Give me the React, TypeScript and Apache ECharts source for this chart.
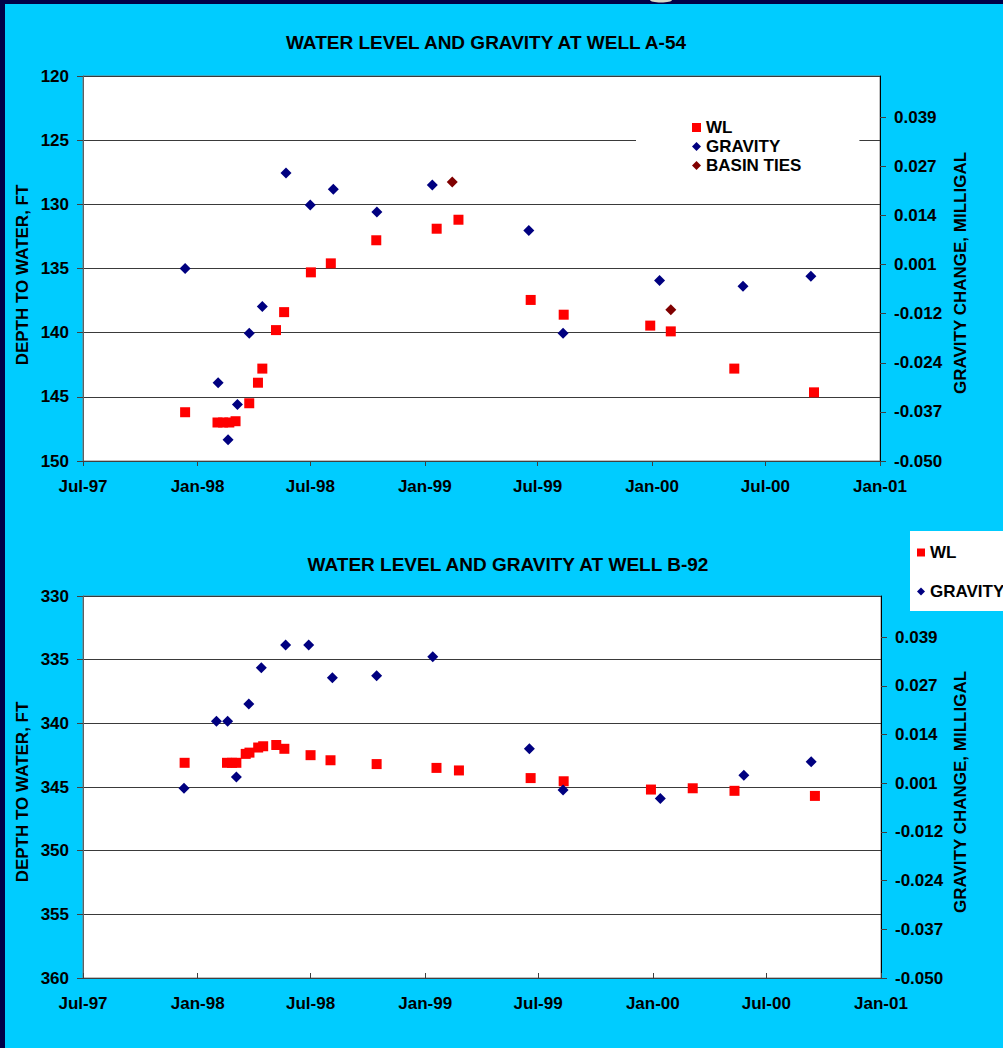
import React, { useEffect, useRef } from "react";
import * as echarts from "echarts";

// ---------- data ----------
const X_TICK_DATES = ["1997-07-01", "1998-01-01", "1998-07-01", "1999-01-01", "1999-07-01", "2000-01-01", "2000-07-01", "2001-01-01"];
const X_TICK_LABELS = ["Jul-97", "Jan-98", "Jul-98", "Jan-99", "Jul-99", "Jan-00", "Jul-00", "Jan-01"];

const GRAV_TICK_VALUES = [-0.05, -0.03725, -0.0245, -0.01175, 0.001, 0.01375, 0.0265, 0.03925];
const GRAV_TICK_LABELS = ["-0.050", "-0.037", "-0.024", "-0.012", "0.001", "0.014", "0.027", "0.039"];

// Well A-54
const A54_WL_DATES = ["1997-12-12", "1998-02-02", "1998-02-11", "1998-02-21", "1998-03-03", "1998-03-25", "1998-04-08", "1998-04-15", "1998-05-07", "1998-05-20", "1998-07-02", "1998-08-03", "1998-10-15", "1999-01-20", "1999-02-24", "1999-06-20", "1999-08-12", "1999-12-29", "2000-01-31", "2000-05-12", "2000-09-17"];
const A54_WL = [146.2, 147.0, 147.0, 147.0, 146.9, 145.5, 143.9, 142.8, 139.8, 138.4, 135.3, 134.6, 132.8, 131.9, 131.2, 137.45, 138.6, 139.45, 139.9, 142.8, 144.65];
const A54_GRAV_DATES = ["1997-12-12", "1998-02-03", "1998-02-19", "1998-03-06", "1998-03-25", "1998-04-15", "1998-05-23", "1998-07-01", "1998-08-07", "1998-10-16", "1999-01-13", "1999-06-17", "1999-08-11", "2000-01-13", "2000-05-26", "2000-09-12"];
const A54_GRAV = [0.0, -0.0297, -0.0445, -0.0353, -0.0168, -0.0099, 0.0248, 0.0165, 0.0206, 0.0147, 0.0217, 0.0099, -0.0168, -0.0031, -0.0046, -0.002];
const A54_BASIN_DATES = ["1999-02-14", "2000-01-31"];
const A54_BASIN = [0.0225, -0.0107];

// Well B-92
const B92_WL_DATES = ["1997-12-11", "1998-02-17", "1998-02-25", "1998-03-04", "1998-03-19", "1998-03-25", "1998-04-08", "1998-04-16", "1998-05-07", "1998-05-20", "1998-07-01", "1998-08-02", "1998-10-15", "1999-01-19", "1999-02-24", "1999-06-19", "1999-08-11", "1999-12-29", "2000-03-05", "2000-05-11", "2000-09-17"];
const B92_WL = [343.1, 343.1, 343.1, 343.1, 342.4, 342.3, 341.9, 341.8, 341.7, 342.0, 342.5, 342.9, 343.2, 343.5, 343.7, 344.3, 344.55, 345.2, 345.1, 345.3, 345.7];
const B92_GRAV_DATES = ["1997-12-10", "1998-01-31", "1998-02-18", "1998-03-04", "1998-03-24", "1998-04-13", "1998-05-22", "1998-06-28", "1998-08-05", "1998-10-15", "1999-01-13", "1999-06-17", "1999-08-10", "2000-01-13", "2000-05-26", "2000-09-11"];
const B92_GRAV = [-0.0003, 0.0172, 0.0172, 0.0026, 0.0217, 0.0312, 0.0372, 0.0372, 0.0286, 0.0291, 0.0341, 0.01, -0.0008, -0.003, 0.0031, 0.0066];

// ---------- helpers ----------
const FONT = "'Liberation Sans', Arial, sans-serif";
const t = (d: string) => Date.parse(d);
const pairs = (dates: string[], vals: number[]) => dates.map((d, i) => [t(d), vals[i]]);
const X_TICKS = X_TICK_DATES.map(t);

const nearestLabel = (v: number, values: number[], labels: string[]) => {
  let best = 0;
  let bd = Infinity;
  values.forEach((x, i) => {
    const dd = Math.abs(x - v);
    if (dd < bd) {
      bd = dd;
      best = i;
    }
  });
  return labels[best];
};

const labelStyle = { fontSize: 17, fontWeight: "bold" as const, color: "#000", fontFamily: FONT };

function xAxis(gridIndex: number, inside: boolean) {
  return {
    type: "value",
    gridIndex,
    position: "bottom",
    min: t("1997-07-01"),
    max: t("2001-01-01"),
    axisLine: { show: true, onZero: false, lineStyle: { color: "#404040", width: 1 } },
    axisTick: { show: true, inside, length: 5, customValues: X_TICKS, lineStyle: { color: "#404040" } },
    axisLabel: {
      ...labelStyle,
      margin: 17,
      customValues: X_TICKS,
      formatter: (v: number) => nearestLabel(v, X_TICKS, X_TICK_LABELS),
    },
    splitLine: { show: false },
  };
}

function leftAxis(gridIndex: number, min: number, max: number) {
  return {
    type: "value",
    gridIndex,
    position: "left",
    inverse: true,
    min,
    max,
    interval: 5,
    axisLine: { show: true, lineStyle: { color: "#606060", width: 1 } },
    axisTick: { show: true, inside: false, length: 6, lineStyle: { color: "#404040" } },
    axisLabel: { ...labelStyle, margin: 14 },
    splitLine: { show: true, lineStyle: { color: "#3a3a3a", width: 1 } },
  };
}

function rightAxis(gridIndex: number) {
  return {
    type: "value",
    gridIndex,
    position: "right",
    min: -0.05,
    max: 0.05,
    axisLine: { show: true, lineStyle: { color: "#000", width: 1 } },
    axisTick: { show: true, inside: false, length: 6, customValues: GRAV_TICK_VALUES, lineStyle: { color: "#404040" } },
    axisLabel: {
      ...labelStyle,
      margin: 14,
      customValues: GRAV_TICK_VALUES,
      formatter: (v: number) => nearestLabel(v, GRAV_TICK_VALUES, GRAV_TICK_LABELS),
    },
    splitLine: { show: false },
  };
}

function scatter(name: string, data: number[][], xi: number, yi: number, symbol: string, size: number, color: string) {
  return {
    type: "scatter",
    name,
    xAxisIndex: xi,
    yAxisIndex: yi,
    data,
    symbol,
    symbolSize: size,
    itemStyle: { color, opacity: 1 },
    silent: true,
    emphasis: { disabled: true },
  };
}

function vText(text: string, x: number, y: number) {
  return {
    type: "text",
    x,
    y,
    rotation: Math.PI / 2,
    style: { text, fill: "#000", font: `bold 17px ${FONT}`, align: "center", verticalAlign: "middle" },
  };
}

function hText(text: string, x: number, y: number) {
  return {
    type: "text",
    x,
    y,
    style: { text, fill: "#000", font: `bold 19px ${FONT}`, align: "center", verticalAlign: "middle" },
  };
}

export default function App() {
  const ref = useRef<HTMLDivElement>(null);

  useEffect(() => {
    if (!ref.current) return;
    const chart = echarts.init(ref.current, null, { renderer: "svg" });
    const legendText = { fontSize: 17, fontWeight: "bold", color: "#000", fontFamily: FONT, lineHeight: 19 };
    chart.setOption({
      animation: false,
      backgroundColor: "#00CCFF",
      grid: [
        { left: 83, top: 76, width: 797, height: 385, show: true, backgroundColor: "#fff", borderColor: "#808080", borderWidth: 1 },
        { left: 83, top: 596, width: 798, height: 382, show: true, backgroundColor: "#fff", borderColor: "#808080", borderWidth: 1 },
      ],
      xAxis: [xAxis(0, false), xAxis(1, true)],
      yAxis: [leftAxis(0, 120, 150), rightAxis(0), leftAxis(1, 330, 360), rightAxis(1)],
      legend: [
        {
          orient: "vertical",
          left: 636,
          top: 110,
          padding: [8, 58, 8, 56],
          backgroundColor: "#fff",
          itemWidth: 9,
          itemHeight: 9,
          itemGap: 0,
          selectedMode: false,
          textStyle: legendText,
          data: [
            { name: "WL", icon: "rect" },
            { name: "GRAVITY", icon: "diamond" },
            { name: "BASIN TIES", icon: "diamond" },
          ],
        },
        {
          orient: "vertical",
          left: 910,
          top: 531,
          padding: [12, 40, 10, 7],
          backgroundColor: "#fff",
          itemWidth: 8,
          itemHeight: 8,
          itemGap: 20,
          selectedMode: false,
          textStyle: legendText,
          data: [
            { name: "WL", icon: "rect" },
            { name: "GRAVITY", icon: "diamond" },
          ],
        },
      ],
      series: [
        scatter("WL", pairs(A54_WL_DATES, A54_WL), 0, 0, "rect", 10, "#FF0000"),
        scatter("GRAVITY", pairs(A54_GRAV_DATES, A54_GRAV), 0, 1, "diamond", 11, "#000080"),
        scatter("BASIN TIES", pairs(A54_BASIN_DATES, A54_BASIN), 0, 1, "diamond", 11, "#800000"),
        scatter("WL", pairs(B92_WL_DATES, B92_WL), 1, 2, "rect", 10, "#FF0000"),
        scatter("GRAVITY", pairs(B92_GRAV_DATES, B92_GRAV), 1, 3, "diamond", 11, "#000080"),
      ],
      graphic: [
        { type: "rect", shape: { x: 0, y: 0, width: 1003, height: 4 }, style: { fill: "#000048" }, z: 100 },
        { type: "rect", shape: { x: 0, y: 0, width: 5, height: 1048 }, style: { fill: "#000048" }, z: 100 },
        { type: "ellipse", shape: { cx: 661, cy: 0, rx: 11, ry: 2.5 }, style: { fill: "#d8d8c8" }, z: 101 },
        hText("WATER LEVEL AND GRAVITY AT WELL A-54", 486, 42),
        hText("WATER LEVEL AND GRAVITY AT WELL B-92", 508, 564),
        vText("DEPTH TO WATER, FT", 22, 275),
        vText("DEPTH TO WATER, FT", 22, 792),
        vText("GRAVITY CHANGE, MILLIGAL", 960, 273),
        vText("GRAVITY CHANGE, MILLIGAL", 960, 792),
      ],
    });
    return () => chart.dispose();
  }, []);

  return <div ref={ref} style={{ position: "absolute", left: 0, top: 0, width: 1003, height: 1048 }} />;
}
